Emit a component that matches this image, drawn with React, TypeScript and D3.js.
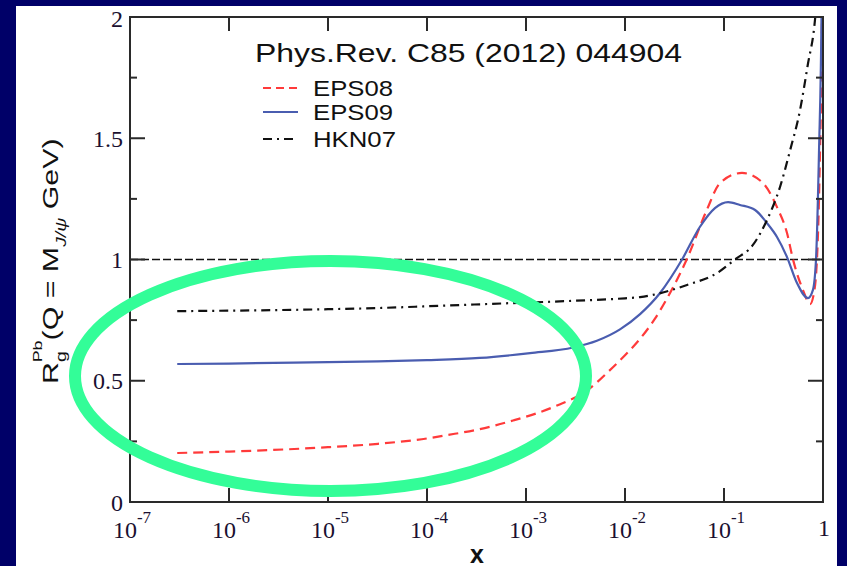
import React from "react";
import * as d3 from "d3";

const W = 847;
const H = 566;

// Nuclear modification of the gluon PDF in Pb, R_g^Pb(x) at Q = M_J/psi
const eps08X = [3e-7, 1e-6, 1e-5, 3.2e-5, 1e-4, 1.6e-4, 3.2e-4, 7.4e-4, 1.9e-3, 4.2e-3, 7.6e-3, 0.01, 0.014, 0.02, 0.0285, 0.042, 0.067, 0.091, 0.152, 0.248, 0.343, 0.433, 0.498, 0.628, 0.74, 0.8, 0.869, 0.933, 0.977, 0.99];
const eps08Y = [0.202, 0.208, 0.226, 0.24, 0.262, 0.276, 0.298, 0.336, 0.392, 0.462, 0.557, 0.605, 0.67, 0.755, 0.862, 1.0, 1.204, 1.315, 1.357, 1.315, 1.216, 1.109, 1.0, 0.874, 0.816, 0.85, 1.0, 1.45, 2.0, 2.4];

const eps09X = [3e-7, 1e-6, 1e-5, 3.2e-5, 1e-4, 3.4e-4, 1.1e-3, 3e-3, 5.2e-3, 8.9e-3, 0.0142, 0.0226, 0.0377, 0.057, 0.081, 0.11, 0.145, 0.206, 0.272, 0.343, 0.433, 0.546, 0.705, 0.79, 0.85, 0.912, 0.966, 0.985];
const eps09Y = [0.569, 0.571, 0.577, 0.58, 0.585, 0.594, 0.614, 0.637, 0.665, 0.712, 0.775, 0.862, 1.0, 1.134, 1.212, 1.237, 1.225, 1.204, 1.15, 1.093, 1.01, 0.903, 0.841, 0.874, 1.0, 1.45, 2.0, 2.4];

const hkn07X = [3e-7, 1e-6, 1e-5, 3.35e-5, 1e-4, 6.9e-4, 3.16e-3, 0.01, 0.0142, 0.0423, 0.085, 0.129, 0.196, 0.272, 0.368, 0.465, 0.586, 0.7, 0.83, 0.86];
const hkn07Y = [0.787, 0.789, 0.795, 0.8, 0.807, 0.82, 0.83, 0.84, 0.845, 0.895, 0.944, 1.0, 1.06, 1.163, 1.299, 1.45, 1.616, 1.8, 1.988, 2.06];

const xTickExps = [-7, -6, -5, -4, -3, -2, -1, 0];
const yMajorTicks = [0, 0.5, 1, 1.5, 2];
const yMinorTicks = [0.25, 0.75, 1.25, 1.75];
const yTickLabels = ["0", "0.5", "1", "1.5", "2"];

const titleText = "Phys.Rev. C85 (2012) 044904";
const seriesNames = ["EPS08", "EPS09", "HKN07"];

const L = 130, R = 823, T = 17, B = 502;

export default function App() {
  const x = d3.scaleLog().domain([1e-7, 1]).range([L, R]);
  const y = d3.scaleLinear().domain([0, 2]).range([B, T]);

  const line = d3
    .line<[number, number]>()
    .x((d) => x(d[0]))
    .y((d) => y(d[1]))
    .curve(d3.curveMonotoneX);

  const zip = (xs: number[], ys: number[]) => xs.map((v, i) => [v, ys[i]] as [number, number]);

  const series = [
    { name: seriesNames[0], d: line(zip(eps08X, eps08Y)), color: "#ff3a3a", dash: "10,6", legendDash: "8,5", width: 2.2, labelLen: 80 },
    { name: seriesNames[1], d: line(zip(eps09X, eps09Y)), color: "#4a5db0", dash: "", legendDash: "", width: 2.2, labelLen: 80 },
    { name: seriesNames[2], d: line(zip(hkn07X, hkn07Y)), color: "#111", dash: "9,5,2,5", legendDash: "9,5,2,5", width: 2.2, labelLen: 83 },
  ];

  const axisColor = "#2a2a2a";
  const serif = "'Liberation Serif', 'Times New Roman', serif";
  const sans = "'Liberation Sans', Arial, sans-serif";

  return (
    <svg width={W} height={H} style={{ position: "absolute", left: 0, top: 0, display: "block" }}>
      <defs>
        <clipPath id="plotClip">
          <rect x={L} y={T} width={R - L} height={B - T} />
        </clipPath>
      </defs>
      <rect x={0} y={0} width={W} height={H} fill="#000068" />
      <rect x={16} y={6} width={821} height={H - 6} fill="#ffffff" />

      {/* reference line at R = 1 */}
      <line x1={L} x2={R} y1={y(1)} y2={y(1)} stroke="#111" strokeWidth={1.5} strokeDasharray="8,3" />

      {/* curves */}
      <g clipPath="url(#plotClip)">
        {series.map((s) => (
          <path key={s.name} d={s.d || ""} fill="none" stroke={s.color} strokeWidth={s.width} strokeDasharray={s.dash || undefined} />
        ))}
      </g>

      {/* frame */}
      <rect x={L} y={T} width={R - L} height={B - T} fill="none" stroke={axisColor} strokeWidth={2} />

      {/* x ticks (bottom and top, inward) */}
      {xTickExps.map((e) => {
        const px = x(Math.pow(10, e));
        return (
          <g key={"xt" + e}>
            <line x1={px} x2={px} y1={B} y2={B - 14} stroke={axisColor} strokeWidth={2} />
            <line x1={px} x2={px} y1={T} y2={T + 14} stroke={axisColor} strokeWidth={2} />
          </g>
        );
      })}

      {/* y ticks (left and right, inward) */}
      {yMajorTicks.map((v) => (
        <g key={"ym" + v}>
          <line x1={L} x2={L + 15} y1={y(v)} y2={y(v)} stroke={axisColor} strokeWidth={2} />
          <line x1={R} x2={R - 15} y1={y(v)} y2={y(v)} stroke={axisColor} strokeWidth={2} />
        </g>
      ))}
      {yMinorTicks.map((v) => (
        <g key={"yn" + v}>
          <line x1={L} x2={L + 7} y1={y(v)} y2={y(v)} stroke={axisColor} strokeWidth={2} />
          <line x1={R} x2={R - 7} y1={y(v)} y2={y(v)} stroke={axisColor} strokeWidth={2} />
        </g>
      ))}

      {/* x tick labels */}
      {xTickExps.map((e) => {
        const px = x(Math.pow(10, e));
        if (e === 0) {
          return (
            <text key={"xl" + e} x={px + 1} y={536} textAnchor="middle" fontFamily={serif} fontSize={24} fill="#1a1030">
              1
            </text>
          );
        }
        return (
          <text key={"xl" + e} x={px + 2} y={538} textAnchor="middle" fontFamily={serif} fontSize={24} fill="#1a1030">
            <tspan>10</tspan>
            <tspan fontSize={17} dy={-15}>{String(e)}</tspan>
          </text>
        );
      })}

      {/* y tick labels */}
      {yMajorTicks.map((v, i) => (
        <text key={"yl" + v} x={123} y={v === 2 ? 27 : y(v) + 8.5} textAnchor="end" fontFamily={serif} fontSize={24} fill="#1a1030">
          {yTickLabels[i]}
        </text>
      ))}

      {/* axis titles */}
      <text x={477} y={563} textAnchor="middle" fontFamily={sans} fontSize={25} fontWeight="bold" fill="#111">
        x
      </text>
      <g transform="translate(58,384) rotate(-90) scale(1.38,1)">
        <text x={0} y={0} fontFamily={sans} fontSize={22} fill="#111">
          <tspan>R</tspan>
          <tspan fontSize={14} dy={8}>g</tspan>
          <tspan fontSize={13} dx={-8} dy={-24}>Pb</tspan>
          <tspan fontSize={22} dy={16}>(Q = M</tspan>
          <tspan fontSize={14} dy={8} fontStyle="italic">J/ψ</tspan>
          <tspan fontSize={22} dy={-8}>{"  GeV)"}</tspan>
        </text>
      </g>

      {/* title */}
      <text x={255} y={62} fontFamily={sans} fontSize={26.5} fill="#111" textLength={427} lengthAdjust="spacingAndGlyphs">
        {titleText}
      </text>

      {/* legend */}
      {series.map((s, i) => {
        const ly = [88, 112, 139][i];
        return (
          <g key={"lg" + s.name}>
            <line x1={263} x2={298} y1={ly} y2={ly} stroke={s.color} strokeWidth={2} strokeDasharray={s.legendDash || undefined} />
            <text x={313} y={ly + 8} fontFamily={sans} fontSize={22} fill="#111" textLength={s.labelLen} lengthAdjust="spacingAndGlyphs">
              {s.name}
            </text>
          </g>
        );
      })}

      {/* highlight around the small-x region */}
      <ellipse cx={330.5} cy={376} rx={255.5} ry={115} fill="none" stroke="#33fd98" strokeWidth={12} />
    </svg>
  );
}
